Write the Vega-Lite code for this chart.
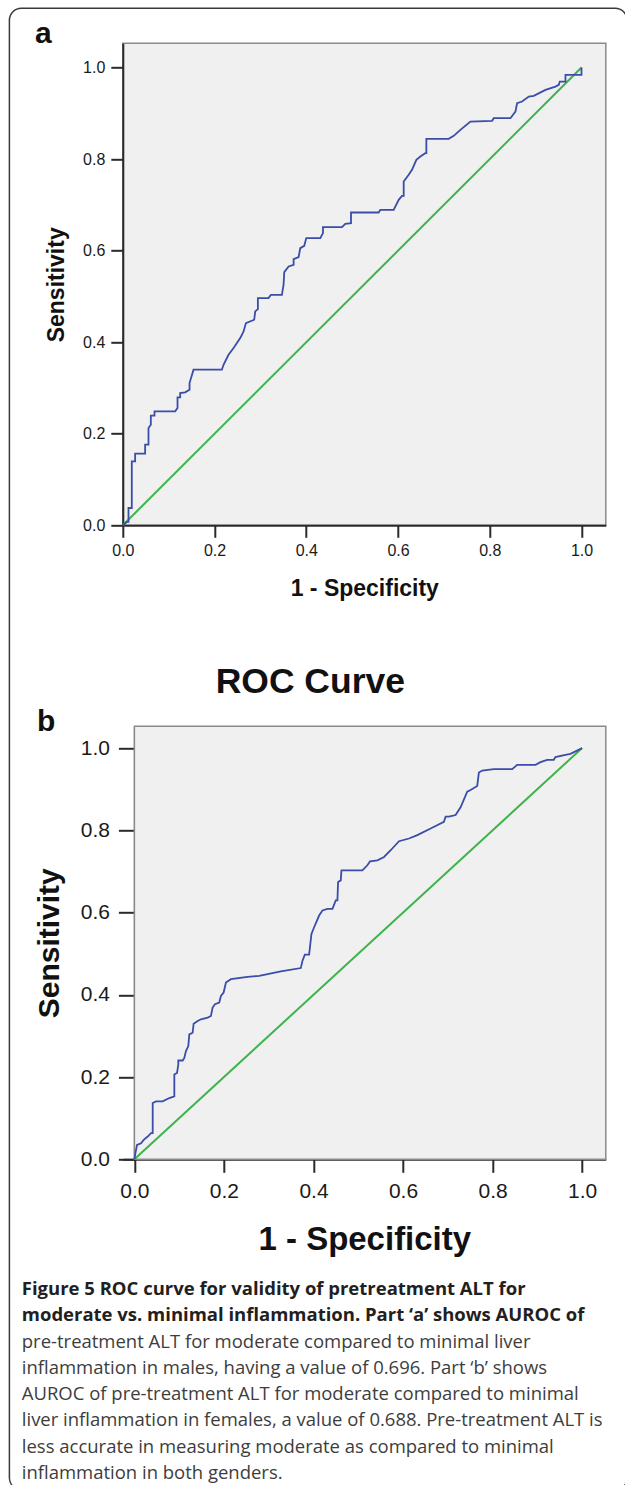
{
  "$schema": "https://vega.github.io/schema/vega-lite/v6.json",
  "background": "white",
  "padding": {"left": 7.8, "top": 7.3, "right": -2.75, "bottom": -5.75},
  "bounds": "flush",
  "spacing": 100,
  "datasets": {
    "diag": [{"fpr": 0, "tpr": 0}, {"fpr": 1, "tpr": 1}],
    "rocA": [
      {"i":0,"fpr":0,"tpr":0},{"i":1,"fpr":0.0087,"tpr":0.0073},{"i":2,"fpr":0.0124,"tpr":0.0073},{"i":3,"fpr":0.0124,"tpr":0.0378},
      {"i":4,"fpr":0.0196,"tpr":0.0378},{"i":5,"fpr":0.0196,"tpr":0.1397},{"i":6,"fpr":0.0269,"tpr":0.1397},{"i":7,"fpr":0.0269,"tpr":0.1565},
      {"i":8,"fpr":0.0487,"tpr":0.1565},{"i":9,"fpr":0.0487,"tpr":0.1761},{"i":10,"fpr":0.056,"tpr":0.1761},{"i":11,"fpr":0.056,"tpr":0.2125},
      {"i":12,"fpr":0.0611,"tpr":0.2198},{"i":13,"fpr":0.0611,"tpr":0.2394},{"i":14,"fpr":0.0691,"tpr":0.2394},{"i":15,"fpr":0.0691,"tpr":0.2489},
      {"i":16,"fpr":0.1142,"tpr":0.2489},{"i":17,"fpr":0.1193,"tpr":0.2562},{"i":18,"fpr":0.1193,"tpr":0.2795},{"i":19,"fpr":0.1251,"tpr":0.2795},
      {"i":20,"fpr":0.1251,"tpr":0.2889},{"i":21,"fpr":0.136,"tpr":0.2904},{"i":22,"fpr":0.1455,"tpr":0.2962},{"i":23,"fpr":0.1455,"tpr":0.3108},
      {"i":24,"fpr":0.1542,"tpr":0.3399},{"i":25,"fpr":0.216,"tpr":0.3399},{"i":26,"fpr":0.2196,"tpr":0.3508},{"i":27,"fpr":0.2305,"tpr":0.3726},
      {"i":28,"fpr":0.2415,"tpr":0.3872},{"i":29,"fpr":0.256,"tpr":0.409},{"i":30,"fpr":0.2633,"tpr":0.4236},{"i":31,"fpr":0.2684,"tpr":0.4418},
      {"i":32,"fpr":0.2865,"tpr":0.4491},{"i":33,"fpr":0.2887,"tpr":0.4672},{"i":34,"fpr":0.2945,"tpr":0.4723},{"i":35,"fpr":0.2945,"tpr":0.4964},
      {"i":36,"fpr":0.3178,"tpr":0.4964},{"i":37,"fpr":0.3229,"tpr":0.5036},{"i":38,"fpr":0.3469,"tpr":0.5036},{"i":39,"fpr":0.3505,"tpr":0.5255},
      {"i":40,"fpr":0.352,"tpr":0.5531},{"i":41,"fpr":0.3615,"tpr":0.5655},{"i":42,"fpr":0.3724,"tpr":0.5691},{"i":43,"fpr":0.3724,"tpr":0.5815},
      {"i":44,"fpr":0.3833,"tpr":0.5859},{"i":45,"fpr":0.3869,"tpr":0.6055},{"i":46,"fpr":0.3956,"tpr":0.6106},{"i":47,"fpr":0.4,"tpr":0.6274},
      {"i":48,"fpr":0.4305,"tpr":0.6274},{"i":49,"fpr":0.4364,"tpr":0.6383},{"i":50,"fpr":0.4364,"tpr":0.6514},{"i":51,"fpr":0.4778,"tpr":0.6514},
      {"i":52,"fpr":0.4851,"tpr":0.6587},{"i":53,"fpr":0.4975,"tpr":0.6601},{"i":54,"fpr":0.4975,"tpr":0.6834},{"i":55,"fpr":0.5578,"tpr":0.6834},
      {"i":56,"fpr":0.5615,"tpr":0.6892},{"i":57,"fpr":0.5905,"tpr":0.6892},{"i":58,"fpr":0.6015,"tpr":0.7111},{"i":59,"fpr":0.6087,"tpr":0.7198},
      {"i":60,"fpr":0.6124,"tpr":0.7198},{"i":61,"fpr":0.6124,"tpr":0.7511},{"i":62,"fpr":0.6233,"tpr":0.7656},{"i":63,"fpr":0.6305,"tpr":0.7766},
      {"i":64,"fpr":0.64,"tpr":0.7984},{"i":65,"fpr":0.6487,"tpr":0.8057},{"i":66,"fpr":0.6596,"tpr":0.813},{"i":67,"fpr":0.6618,"tpr":0.813},
      {"i":68,"fpr":0.6618,"tpr":0.8443},{"i":69,"fpr":0.7105,"tpr":0.8443},{"i":70,"fpr":0.7215,"tpr":0.8508},{"i":71,"fpr":0.736,"tpr":0.8639},
      {"i":72,"fpr":0.7578,"tpr":0.8821},{"i":73,"fpr":0.8051,"tpr":0.8836},{"i":74,"fpr":0.8087,"tpr":0.8894},{"i":75,"fpr":0.8451,"tpr":0.8894},
      {"i":76,"fpr":0.856,"tpr":0.9039},{"i":77,"fpr":0.8596,"tpr":0.9221},{"i":78,"fpr":0.8705,"tpr":0.9258},{"i":79,"fpr":0.8851,"tpr":0.9367},
      {"i":80,"fpr":0.896,"tpr":0.9381},{"i":81,"fpr":0.9215,"tpr":0.9512},{"i":82,"fpr":0.9433,"tpr":0.9585},{"i":83,"fpr":0.9505,"tpr":0.9622},
      {"i":84,"fpr":0.9527,"tpr":0.9694},{"i":85,"fpr":0.9651,"tpr":0.9694},{"i":86,"fpr":0.9651,"tpr":0.984},{"i":87,"fpr":1.0,"tpr":0.984},
      {"i":88,"fpr":1.0,"tpr":1.0}
    ],
    "rocB": [
      {"i":0,"fpr":0,"tpr":0},{"i":1,"fpr":0.0022,"tpr":0.0147},{"i":2,"fpr":0.0059,"tpr":0.035},{"i":3,"fpr":0.0149,"tpr":0.0391},
      {"i":4,"fpr":0.0208,"tpr":0.0472},{"i":5,"fpr":0.0297,"tpr":0.0554},{"i":6,"fpr":0.0372,"tpr":0.0635},{"i":7,"fpr":0.0409,"tpr":0.0635},
      {"i":8,"fpr":0.0409,"tpr":0.1368},{"i":9,"fpr":0.0483,"tpr":0.1409},{"i":10,"fpr":0.0632,"tpr":0.1409},{"i":11,"fpr":0.0781,"tpr":0.149},
      {"i":12,"fpr":0.0892,"tpr":0.1531},{"i":13,"fpr":0.0892,"tpr":0.206},{"i":14,"fpr":0.0952,"tpr":0.2101},{"i":15,"fpr":0.0981,"tpr":0.2305},
      {"i":16,"fpr":0.0981,"tpr":0.2402},{"i":17,"fpr":0.1078,"tpr":0.2402},{"i":18,"fpr":0.1115,"tpr":0.2467},{"i":19,"fpr":0.1152,"tpr":0.263},
      {"i":20,"fpr":0.1204,"tpr":0.2752},{"i":21,"fpr":0.1227,"tpr":0.3037},{"i":22,"fpr":0.1301,"tpr":0.3078},{"i":23,"fpr":0.1323,"tpr":0.3298},
      {"i":24,"fpr":0.1413,"tpr":0.3363},{"i":25,"fpr":0.1487,"tpr":0.3404},{"i":26,"fpr":0.1636,"tpr":0.3445},{"i":27,"fpr":0.171,"tpr":0.3485},
      {"i":28,"fpr":0.1747,"tpr":0.3689},{"i":29,"fpr":0.1799,"tpr":0.377},{"i":30,"fpr":0.1896,"tpr":0.3811},{"i":31,"fpr":0.1933,"tpr":0.3974},
      {"i":32,"fpr":0.1993,"tpr":0.4055},{"i":33,"fpr":0.2045,"tpr":0.43},{"i":34,"fpr":0.2156,"tpr":0.4381},{"i":35,"fpr":0.2528,"tpr":0.4438},
      {"i":36,"fpr":0.2788,"tpr":0.4463},{"i":37,"fpr":0.3271,"tpr":0.4568},{"i":38,"fpr":0.3717,"tpr":0.465},{"i":39,"fpr":0.3755,"tpr":0.4829},
      {"i":40,"fpr":0.3807,"tpr":0.4976},{"i":41,"fpr":0.3903,"tpr":0.4976},{"i":42,"fpr":0.3955,"tpr":0.548},{"i":43,"fpr":0.4015,"tpr":0.5643},
      {"i":44,"fpr":0.4126,"tpr":0.5928},{"i":45,"fpr":0.4201,"tpr":0.605},{"i":46,"fpr":0.4312,"tpr":0.6091},{"i":47,"fpr":0.4424,"tpr":0.6091},
      {"i":48,"fpr":0.4498,"tpr":0.6295},{"i":49,"fpr":0.4535,"tpr":0.6295},{"i":50,"fpr":0.455,"tpr":0.6743},{"i":51,"fpr":0.461,"tpr":0.6783},
      {"i":52,"fpr":0.4625,"tpr":0.7028},{"i":53,"fpr":0.5093,"tpr":0.7028},{"i":54,"fpr":0.5204,"tpr":0.715},{"i":55,"fpr":0.5264,"tpr":0.7248},
      {"i":56,"fpr":0.5428,"tpr":0.7272},{"i":57,"fpr":0.5576,"tpr":0.7353},{"i":58,"fpr":0.5725,"tpr":0.7516},{"i":59,"fpr":0.5911,"tpr":0.7736},
      {"i":60,"fpr":0.6134,"tpr":0.7801},{"i":61,"fpr":0.632,"tpr":0.7883},{"i":62,"fpr":0.6617,"tpr":0.8046},{"i":63,"fpr":0.6914,"tpr":0.8208},
      {"i":64,"fpr":0.6952,"tpr":0.8331},{"i":65,"fpr":0.7026,"tpr":0.8331},{"i":66,"fpr":0.7175,"tpr":0.8371},{"i":67,"fpr":0.7286,"tpr":0.8559},
      {"i":68,"fpr":0.7435,"tpr":0.8941},{"i":69,"fpr":0.7509,"tpr":0.8982},{"i":70,"fpr":0.7658,"tpr":0.908},{"i":71,"fpr":0.7695,"tpr":0.9406},
      {"i":72,"fpr":0.777,"tpr":0.9454},{"i":73,"fpr":0.803,"tpr":0.9487},{"i":74,"fpr":0.8439,"tpr":0.9487},{"i":75,"fpr":0.855,"tpr":0.9593},
      {"i":76,"fpr":0.8959,"tpr":0.9593},{"i":77,"fpr":0.9071,"tpr":0.9658},{"i":78,"fpr":0.922,"tpr":0.9715},{"i":79,"fpr":0.9368,"tpr":0.9715},
      {"i":80,"fpr":0.9405,"tpr":0.978},{"i":81,"fpr":0.9628,"tpr":0.9837},{"i":82,"fpr":0.974,"tpr":0.9862},{"i":83,"fpr":1.0,"tpr":1.0}
    ]
  },
  "config": {
    "font": "Liberation Sans",
    "axis": {
      "labelFont": "Liberation Sans", "titleFont": "Liberation Sans", "grid": false, "zindex": 1,
      "domainColor": "#2a2a2a", "domainWidth": 2, "tickColor": "#2a2a2a", "tickWidth": 2,
      "labelColor": "#1a1a1a", "titleColor": "#111111", "titleFontWeight": "bold",
      "labelFlush": false, "labelOverlap": false
    },
    "title": {"font": "Liberation Sans", "color": "#111111"}
  },
  "vconcat": [
    {
      "width": 483, "height": 482,
      "view": {"fill": "#f0f0f0", "stroke": "#8a8a8a", "strokeWidth": 1.5},
      "title": {"text": "a", "anchor": "start", "frame": "group", "dx": -87.7, "offset": -5.6, "fontSize": 30, "fontWeight": "bold"},
      "layer": [
        {
          "data": {"name": "diag"},
          "mark": {"type": "line", "color": "#3cb44b", "strokeWidth": 2},
          "encoding": {
            "x": {"field": "fpr", "type": "quantitative", "scale": {"domain": [0, 1.053], "nice": false, "zero": false},
              "axis": {"title": "1 - Specificity", "values": [0, 0.2, 0.4, 0.6, 0.8, 1], "format": ".1f", "tickSize": 12, "labelFontSize": 16, "labelPadding": 5, "titleFontSize": 23, "titlePadding": 19}},
            "y": {"field": "tpr", "type": "quantitative", "scale": {"domain": [0, 1.053], "nice": false, "zero": false},
              "axis": {"title": "Sensitivity", "values": [0, 0.2, 0.4, 0.6, 0.8, 1], "format": ".1f", "tickSize": 12, "labelFontSize": 16, "labelPadding": 6, "titleFontSize": 23, "titlePadding": 14}}
          }
        },
        {
          "data": {"name": "rocA"},
          "mark": {"type": "line", "color": "#3a4da8", "strokeWidth": 1.8},
          "encoding": {
            "x": {"field": "fpr", "type": "quantitative", "scale": {"domain": [0, 1.053], "nice": false, "zero": false},
              "axis": {"title": "1 - Specificity", "values": [0, 0.2, 0.4, 0.6, 0.8, 1], "format": ".1f", "tickSize": 12, "labelFontSize": 16, "labelPadding": 5, "titleFontSize": 23, "titlePadding": 19}},
            "y": {"field": "tpr", "type": "quantitative", "scale": {"domain": [0, 1.053], "nice": false, "zero": false},
              "axis": {"title": "Sensitivity", "values": [0, 0.2, 0.4, 0.6, 0.8, 1], "format": ".1f", "tickSize": 12, "labelFontSize": 16, "labelPadding": 6, "titleFontSize": 23, "titlePadding": 14}},
            "order": {"field": "i", "type": "quantitative"}
          }
        }
      ]
    },
    {
      "width": 483, "height": 1,
      "view": {"stroke": null, "fill": null},
      "data": {"values": [{"t": ""}]},
      "mark": "text",
      "encoding": {"text": {"field": "t"}},
      "title": {"text": "ROC Curve", "orient": "bottom", "anchor": "middle", "frame": "group", "dx": -54, "offset": 34, "fontSize": 35.5, "fontWeight": "bold"}
    },
    {
      "width": 483, "height": 433,
      "view": {"stroke": null, "fill": null},
      "title": {"text": "b", "anchor": "start", "frame": "group", "dx": -85.7, "offset": -11.3, "fontSize": 30, "fontWeight": "bold"},
      "layer": [
        {
          "data": {"values": [{"k": "frame"}]},
          "mark": {"type": "rect", "fill": "#f0f0f0", "stroke": "#8a8a8a", "strokeWidth": 1.5},
          "encoding": {
            "x": {"datum": 0, "type": "quantitative", "scale": {"domain": [-0.0259, 1.053], "nice": false, "zero": false},
              "axis": {"title": "1 - Specificity", "values": [0, 0.2, 0.4, 0.6, 0.8, 1], "format": ".1f", "tickSize": 13, "labelFontSize": 21, "labelPadding": 8, "titleFontSize": 33, "titlePadding": 22}},
            "x2": {"datum": 1.053},
            "y": {"datum": 0, "type": "quantitative", "scale": {"domain": [0, 1.053], "nice": false, "zero": false},
              "axis": {"title": "Sensitivity", "offset": -11.6, "values": [0, 0.2, 0.4, 0.6, 0.8, 1], "format": ".1f", "tickSize": 16, "labelFontSize": 21, "labelPadding": 9, "titleFontSize": 30, "titlePadding": 16}},
            "y2": {"datum": 1.053}
          }
        },
        {
          "data": {"name": "diag"},
          "mark": {"type": "line", "color": "#3cb44b", "strokeWidth": 2},
          "encoding": {
            "x": {"field": "fpr", "type": "quantitative", "scale": {"domain": [-0.0259, 1.053], "nice": false, "zero": false},
              "axis": {"title": "1 - Specificity", "values": [0, 0.2, 0.4, 0.6, 0.8, 1], "format": ".1f", "tickSize": 13, "labelFontSize": 21, "labelPadding": 8, "titleFontSize": 33, "titlePadding": 22}},
            "y": {"field": "tpr", "type": "quantitative", "scale": {"domain": [0, 1.053], "nice": false, "zero": false},
              "axis": {"title": "Sensitivity", "offset": -11.6, "values": [0, 0.2, 0.4, 0.6, 0.8, 1], "format": ".1f", "tickSize": 16, "labelFontSize": 21, "labelPadding": 9, "titleFontSize": 30, "titlePadding": 16}}
          }
        },
        {
          "data": {"name": "rocB"},
          "mark": {"type": "line", "color": "#3a4da8", "strokeWidth": 1.8},
          "encoding": {
            "x": {"field": "fpr", "type": "quantitative", "scale": {"domain": [-0.0259, 1.053], "nice": false, "zero": false},
              "axis": {"title": "1 - Specificity", "values": [0, 0.2, 0.4, 0.6, 0.8, 1], "format": ".1f", "tickSize": 13, "labelFontSize": 21, "labelPadding": 8, "titleFontSize": 33, "titlePadding": 22}},
            "y": {"field": "tpr", "type": "quantitative", "scale": {"domain": [0, 1.053], "nice": false, "zero": false},
              "axis": {"title": "Sensitivity", "offset": -11.6, "values": [0, 0.2, 0.4, 0.6, 0.8, 1], "format": ".1f", "tickSize": 16, "labelFontSize": 21, "labelPadding": 9, "titleFontSize": 30, "titlePadding": 16}},
            "order": {"field": "i", "type": "quantitative"}
          }
        }
      ]
    },
    {
      "width": 483, "height": 1,
      "view": {"stroke": null, "fill": null},
      "data": {"values": [{"t": ""}]},
      "mark": "text",
      "encoding": {"text": {"field": "t"}},
      "title": {
        "text": ["Figure 5 ROC curve for validity of pretreatment ALT for", "moderate vs. minimal inflammation. Part ‘a’ shows AUROC of"],
        "subtitle": [
          "pre-treatment ALT for moderate compared to minimal liver",
          "inflammation in males, having a value of 0.696. Part ‘b’ shows",
          "AUROC of pre-treatment ALT for moderate compared to minimal",
          "liver inflammation in females, a value of 0.688. Pre-treatment ALT is",
          "less accurate in measuring moderate as compared to minimal",
          "inflammation in both genders."
        ],
        "orient": "bottom", "anchor": "start", "frame": "group", "dx": -101, "offset": 15,
        "font": "Open Sans", "fontSize": 18.5, "fontWeight": "bold", "lineHeight": 26.3, "color": "#231f20",
        "subtitleFont": "Open Sans", "subtitleFontSize": 18.5, "subtitleFontWeight": "normal", "subtitleLineHeight": 26.3, "subtitlePadding": 8, "subtitleColor": "#3d3d3d"
      }
    },
    {
      "width": 483, "height": 100,
      "view": {"stroke": null, "fill": null},
      "data": {"values": [{"k": "outer border"}]},
      "mark": {"type": "rect", "filled": false, "stroke": "#3a3a3a", "strokeWidth": 1.5, "cornerRadius": 12},
      "encoding": {
        "x": {"datum": -0.23478, "type": "quantitative", "scale": {"domain": [0, 1], "nice": false, "zero": false}, "axis": null},
        "x2": {"datum": 1.0441},
        "y": {"datum": 14.52, "type": "quantitative", "scale": {"domain": [0, 1], "nice": false, "zero": false}, "axis": null},
        "y2": {"datum": -0.297}
      }
    }
  ]
}
